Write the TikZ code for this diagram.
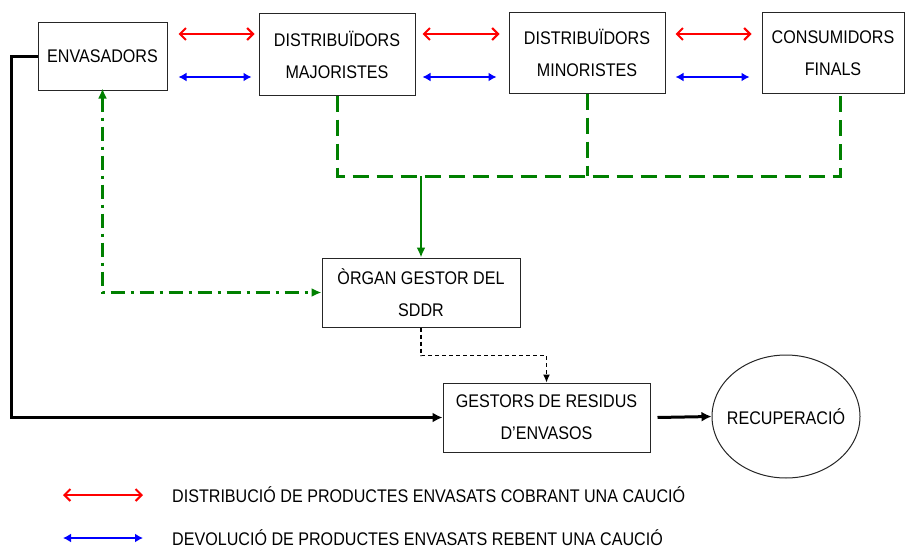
\documentclass[tikz,border=0pt]{standalone}
\usepackage{fontspec}
\setmainfont{Liberation Sans}[FakeStretch=0.88]
\usetikzlibrary{arrows.meta,shapes.geometric}

\begin{document}
\begin{tikzpicture}[x=1pt,y=-1pt]
\tikzstyle{every node}+=[inner sep=0pt]
\tikzstyle{lbl}=[font=\fontsize{18.3}{32}\selectfont, align=center]
\tikzstyle{box}=[lbl, draw=black!85, line width=1pt]
\tikzstyle{redarr}=[red, line width=2pt, {Straight Barb[length=6pt,width=12pt]}-{Straight Barb[length=6pt,width=12pt]}]
\tikzstyle{bluearr}=[blue, line width=2pt, {Latex[length=8pt,width=9pt]}-{Latex[length=8pt,width=9pt]}]
\tikzstyle{greendash}=[green!50!black, line width=3pt, dash pattern=on 16pt off 8pt]
\tikzstyle{greenarr}=[green!50!black, line width=2.4pt, -{Latex[length=10pt,width=9pt]}]
\tikzstyle{greendot}=[green!50!black, line width=2.6pt, dash pattern=on 14pt off 6pt on 3pt off 6pt, {Latex[length=10pt,width=9pt]}-{Latex[length=10pt,width=9pt]}]
\useasboundingbox (0,0) rectangle (905,551);
% boxes
\node [box, minimum width=129, minimum height=67] (env) at (102.5,56.5) {ENVASADORS};
\node [box, minimum width=156, minimum height=81] (maj) at (337,54.5) {DISTRIBUÏDORS\\MAJORISTES};
\node [box, minimum width=156, minimum height=80] (min) at (587,53) {DISTRIBUÏDORS\\MINORISTES};
\node [box, minimum width=142, minimum height=80] (con) at (833,53) {CONSUMIDORS\\FINALS};
\node [box, minimum width=198, minimum height=69] (org) at (421,292.5) {ÒRGAN GESTOR DEL\\SDDR};
\node [box, minimum width=207, minimum height=69] (ges) at (546.5,417.5) {GESTORS DE RESIDUS\\D’ENVASOS};
\node [ellipse, draw=black!85, line width=1pt, minimum width=148, minimum height=123,
  label={[lbl]center:RECUPERACIÓ}] (rec) at (786,416.5) {};
% red and blue flows
\draw [redarr] ([xshift=11pt]env.east |- 0,34) -- ([xshift=-4pt]maj.west |- 0,34);
\draw [redarr] ([xshift=7pt]maj.east |- 0,34) -- ([xshift=-9pt]min.west |- 0,34);
\draw [redarr] ([xshift=10pt]min.east |- 0,34) -- ([xshift=-10pt]con.west |- 0,34);
\draw [bluearr] ([xshift=11pt]env.east |- 0,77) -- ([xshift=-7pt]maj.west |- 0,77);
\draw [bluearr] ([xshift=7pt]maj.east |- 0,77) -- ([xshift=-12pt]min.west |- 0,77);
\draw [bluearr] ([xshift=10pt]min.east |- 0,77) -- ([xshift=-12pt]con.west |- 0,77);
% green returns
\coordinate (join) at (org.north |- 0,176);
\draw [greendash] (maj.south) |- ([xshift=7pt]con.south |- 0,176) -- ([xshift=7pt]con.south);
\draw [greendash] (min.south) -- (min.south |- 0,176);
\draw [greenarr] (join) -- (org.north);
\draw [greendot] ([yshift=2pt]env.south) |- (org.west);
% black flows
\draw [black, dash pattern=on 4pt off 3pt, line width=1.2pt, -{Latex[length=8pt,width=7pt]}] (org.south) -- ++(0,28) -| (ges.north);
\draw [black, line width=3pt, -{Latex[length=10pt,width=10pt]}] (env.west) -- ++(-26,0) |- (ges.west);
\draw [black, line width=3pt, -{Latex[length=10pt,width=10pt]}] ([xshift=7pt]ges.east) -- (rec.west);
% legend
\coordinate (r1) at (63,495);
\coordinate (r2) at (143,495);
\coordinate (b1) at (63,538);
\coordinate (b2) at (143,538);
\draw [redarr] (r1) -- (r2);
\draw [bluearr] (b1) -- (b2);
\node [lbl, anchor=west] (tr) at (172,495) {DISTRIBUCIÓ DE PRODUCTES ENVASATS COBRANT UNA CAUCIÓ};
\node [lbl, anchor=west] (tb) at (172,538) {DEVOLUCIÓ DE PRODUCTES ENVASATS REBENT UNA CAUCIÓ};
\end{tikzpicture}
\end{document}
